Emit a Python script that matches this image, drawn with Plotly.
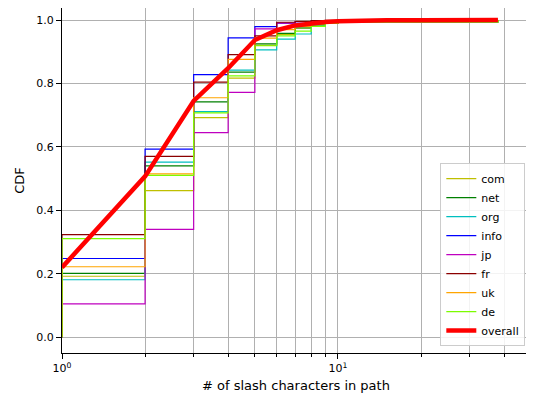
import plotly.graph_objects as go

# x positions (number of slash characters)
x_steps = [1, 2, 3, 4, 5, 6, 7, 8, 9, 10, 38]

com = [0.192, 0.462, 0.692, 0.817, 0.920, 0.955, 0.975, 0.985, 0.990, 0.993, 1.0]
net = [0.201, 0.540, 0.742, 0.836, 0.925, 0.958, 0.975, 0.985, 0.990, 0.994, 1.0]
org = [0.181, 0.552, 0.711, 0.842, 0.906, 0.940, 0.956, 0.980, 0.990, 0.994, 1.0]
info = [0.248, 0.593, 0.828, 0.944, 0.979, 0.990, 0.995, 0.997, 0.998, 0.999, 1.0]
jp = [0.105, 0.340, 0.645, 0.772, 0.972, 0.990, 0.995, 0.997, 0.998, 0.999, 1.0]
fr = [0.323, 0.570, 0.804, 0.891, 0.950, 0.993, 0.996, 0.998, 0.999, 0.999, 1.0]
uk = [0.222, 0.515, 0.755, 0.876, 0.943, 0.970, 0.980, 0.988, 0.990, 0.995, 1.0]
de = [0.311, 0.510, 0.707, 0.824, 0.919, 0.950, 0.965, 0.980, 0.990, 0.994, 1.0]

x_overall = [1, 2, 3, 4, 5, 6, 7, 8, 9, 10, 12, 15, 20, 38]
overall = [0.22, 0.507, 0.745, 0.848, 0.937, 0.968, 0.983, 0.990, 0.994, 0.996, 0.998, 0.999, 0.9995, 1.0]

series = [
    ("com", com, "#bfbf00"),
    ("net", net, "#008000"),
    ("org", org, "#00bfbf"),
    ("info", info, "#0000ff"),
    ("jp", jp, "#bf00bf"),
    ("fr", fr, "#8b0000"),
    ("uk", uk, "#ffa500"),
    ("de", de, "#7cfc00"),
]

fig = go.Figure()
for name, vals, color in series:
    fig.add_trace(go.Scatter(
        x=[x_steps[0]] + x_steps, y=[0] + vals,
        mode="lines", line=dict(color=color, width=1.2, shape="hv"),
        name=name,
    ))
fig.add_trace(go.Scatter(
    x=x_overall, y=overall, mode="lines",
    line=dict(color="#ff0000", width=4.5), name="overall",
))

font = dict(family="DejaVu Sans", size=11, color="black")
grid = "#b0b0b0"
# the page body adds an 8px offset; size/margins compensate for it
fig.update_layout(
    width=526, height=394,
    margin=dict(l=54, r=4, t=0, b=49, autoexpand=False),
    paper_bgcolor="white", plot_bgcolor="white",
    font=font,
    showlegend=True,
    legend=dict(
        x=0.99, y=0.02, xanchor="right", yanchor="bottom",
        bgcolor="rgba(255,255,255,0.85)", bordercolor="#cccccc", borderwidth=1,
        font=dict(family="DejaVu Sans", size=11), tracegroupgap=0,
        itemwidth=30,
    ),
)
fig.update_xaxes(
    type="log", range=[0, 1.696], automargin=False,
    tickvals=[1, 10], ticktext=["10<sup>0</sup>", "10<sup>1</sup>"],
    ticks="outside", ticklen=5, tickcolor="black",
    showgrid=True, gridcolor=grid, gridwidth=1,
    minor=dict(tickvals=[2, 3, 4, 5, 6, 7, 8, 9, 20, 30, 40], ticks="outside",
               ticklen=3, tickcolor="black", showgrid=True, gridcolor=grid, gridwidth=1),
    showline=True, linecolor="black", linewidth=1, mirror=True,
    zeroline=False,
    title=dict(text="# of slash characters in path", standoff=6),
)
fig.update_yaxes(
    range=[-0.05, 1.038], automargin=False,
    tickvals=[0, 0.2, 0.4, 0.6, 0.8, 1.0], ticktext=["0.0", "0.2", "0.4", "0.6", "0.8", "1.0"],
    ticks="outside", ticklen=5, tickcolor="black",
    showgrid=True, gridcolor=grid, gridwidth=1,
    showline=True, linecolor="black", linewidth=1, mirror=True,
    zeroline=False,
    title=dict(text="CDF", standoff=8),
)

fig.write_html("out.html")
